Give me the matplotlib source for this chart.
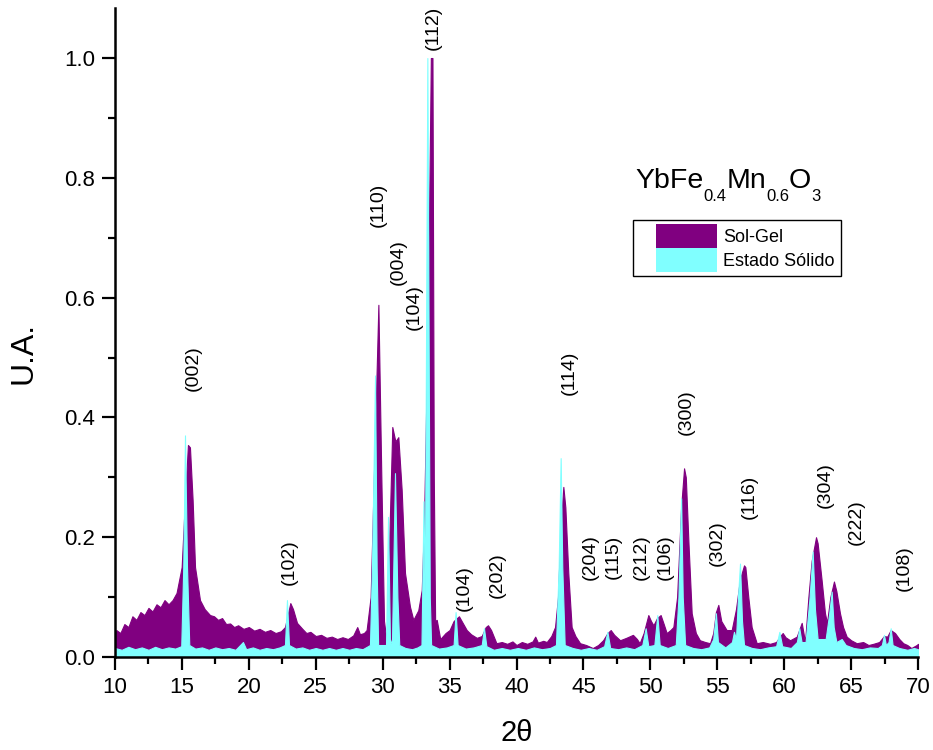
import matplotlib
matplotlib.use("Agg")
import matplotlib.pyplot as plt
from matplotlib.patches import Rectangle
from matplotlib.legend_handler import HandlerPatch
from matplotlib.ticker import MultipleLocator

plt.rcParams['font.family'] = ['Liberation Sans', 'DejaVu Sans']

# ---- diffraction patterns (2-theta in degrees, normalised intensity) ----
sg_2theta = [10.0, 10.1, 10.4, 10.7, 11.0, 11.3, 11.6, 11.9, 12.2, 12.5, 12.8, 13.1, 13.4, 13.7,
             14.0, 14.3, 14.6, 14.98, 15.2, 15.45, 15.6, 15.8, 15.98, 16.35, 16.7, 17.1, 17.4,
             17.7, 18.0, 18.3, 18.6, 18.9, 19.2, 19.6, 20.0, 20.4, 20.8, 21.2, 21.6, 22.0, 22.4,
             22.7, 22.9, 23.1, 23.3, 23.6, 24.0, 24.3, 24.6, 25.0, 25.4, 25.8, 26.2, 26.6, 27.0,
             27.4, 27.8, 28.1, 28.3, 28.6, 28.8, 29.1, 29.4, 29.68, 29.9, 30.1, 30.3, 30.5,
             30.72, 30.95, 31.17, 31.42, 31.67, 32.04, 32.29, 32.66, 32.92, 33.09, 33.4, 33.6,
             33.72, 33.82, 33.92, 34.04, 34.3, 34.7, 35.0, 35.3, 35.7, 35.9, 36.28, 36.6, 37.03,
             37.4, 37.7, 37.87, 38.1, 38.5, 38.9, 39.3, 39.7, 40.0, 40.4, 40.8, 41.2, 41.4, 41.6,
             42.0, 42.26, 42.6, 42.88, 43.1, 43.3, 43.5, 43.65, 43.87, 44.12, 44.4, 44.75, 45.2,
             45.7, 46.1, 46.47, 46.8, 47.04, 47.3, 47.74, 48.2, 48.7, 49.0, 49.2, 49.5, 49.85,
             50.05, 50.23, 50.5, 50.77, 51.0, 51.22, 51.5, 51.72, 52.0, 52.3, 52.52, 52.65, 52.84,
             53.09, 53.4, 53.7, 54.1, 54.46, 54.7, 54.9, 55.08, 55.3, 55.7, 56.08, 56.4, 56.7,
             57.0, 57.1, 57.32, 57.57, 57.95, 58.4, 58.94, 59.4, 59.7, 59.89, 60.1, 60.44, 60.94,
             61.31, 61.56, 61.81, 62.05, 62.38, 62.5, 62.8, 63.05, 63.2, 63.45, 63.72, 63.9,
             64.17, 64.4, 64.67, 65.0, 65.42, 65.9, 66.3, 66.66, 67.1, 67.46, 67.7, 67.96, 68.28,
             68.6, 68.9, 69.2, 69.5, 69.9, 70.0]
sg_intensity = [0.03, 0.045, 0.04, 0.055, 0.05, 0.068, 0.062, 0.075, 0.07, 0.082, 0.076, 0.088,
                0.083, 0.095, 0.088, 0.095, 0.107, 0.15, 0.25, 0.354, 0.35, 0.262, 0.15, 0.095,
                0.08, 0.07, 0.068, 0.062, 0.065, 0.055, 0.056, 0.05, 0.053, 0.047, 0.05, 0.044,
                0.047, 0.042, 0.045, 0.04, 0.043, 0.05, 0.07, 0.09, 0.08, 0.057, 0.047, 0.04,
                0.042, 0.035, 0.037, 0.032, 0.034, 0.03, 0.033, 0.03, 0.036, 0.05, 0.038, 0.04,
                0.045, 0.1, 0.35, 0.588, 0.3, 0.06, 0.025, 0.2, 0.384, 0.36, 0.367, 0.279, 0.14,
                0.084, 0.062, 0.078, 0.112, 0.224, 0.6, 1.0, 1.0, 0.3, 0.06, 0.062, 0.03, 0.04,
                0.045, 0.06, 0.068, 0.06, 0.045, 0.038, 0.032, 0.035, 0.05, 0.053, 0.045, 0.023,
                0.025, 0.022, 0.026, 0.02, 0.025, 0.022, 0.026, 0.034, 0.024, 0.027, 0.025, 0.035,
                0.05, 0.1, 0.22, 0.284, 0.25, 0.14, 0.05, 0.035, 0.023, 0.02, 0.015, 0.02, 0.028,
                0.04, 0.045, 0.037, 0.028, 0.032, 0.037, 0.03, 0.023, 0.04, 0.07, 0.06, 0.053,
                0.065, 0.07, 0.055, 0.04, 0.045, 0.05, 0.1, 0.25, 0.315, 0.3, 0.195, 0.073, 0.04,
                0.028, 0.025, 0.023, 0.04, 0.075, 0.087, 0.06, 0.045, 0.045, 0.08, 0.13, 0.153,
                0.15, 0.1, 0.05, 0.023, 0.025, 0.022, 0.025, 0.035, 0.04, 0.033, 0.028, 0.034,
                0.057, 0.025, 0.1, 0.16, 0.2, 0.19, 0.128, 0.073, 0.057, 0.1, 0.126, 0.11, 0.073,
                0.05, 0.034, 0.028, 0.023, 0.025, 0.02, 0.022, 0.025, 0.035, 0.034, 0.045, 0.04,
                0.03, 0.023, 0.02, 0.015, 0.02, 0.022]

ss_2theta = [10.0, 10.5, 11.0, 11.5, 12.0, 12.5, 13.0, 13.5, 14.0, 14.5, 14.95, 15.1, 15.23,
             15.38, 15.55, 16.0, 16.5, 17.0, 17.5, 18.0, 18.5, 19.0, 19.56, 19.8, 20.3, 20.8,
             21.3, 21.8, 22.3, 22.7, 22.85, 23.0, 23.5, 24.0, 24.5, 25.0, 25.5, 26.0, 26.5, 27.0,
             27.5, 28.0, 28.5, 29.05, 29.2, 29.43, 29.55, 29.66, 30.25, 30.4, 30.55, 30.7, 30.92,
             31.1, 31.24, 31.7, 32.2, 32.6, 32.9, 33.05, 33.15, 33.34, 33.52, 33.62, 34.2, 34.8,
             35.3, 35.45, 35.6, 36.2, 36.8, 37.4, 37.57, 37.75, 38.3, 38.9, 39.5, 40.1, 40.7,
             41.3, 41.9, 42.5, 42.95, 43.15, 43.3, 43.42, 43.6, 44.2, 44.8, 45.4, 46.0, 46.55,
             46.79, 47.0, 47.6, 48.2, 48.8, 49.4, 49.65, 49.85, 50.3, 50.52, 50.7, 51.3, 51.9,
             52.1, 52.3, 52.42, 52.6, 53.2, 53.8, 54.4, 54.7, 54.9, 55.05, 55.6, 56.1, 56.25,
             56.4, 56.55, 56.7, 56.85, 57.0, 57.6, 58.2, 58.8, 59.4, 59.64, 59.85, 60.5, 60.95,
             61.13, 61.3, 61.6, 61.9, 62.13, 62.3, 62.5, 63.1, 63.35, 63.55, 63.7, 63.9, 64.3,
             64.6, 65.2, 65.8, 66.4, 67.0, 67.3, 67.46, 67.6, 67.8, 67.96, 68.1, 68.6, 69.2,
             69.7, 70.0]
ss_intensity = [0.015, 0.012, 0.017, 0.013, 0.016, 0.012, 0.017, 0.013, 0.016, 0.014, 0.018,
                0.15, 0.37, 0.15, 0.02, 0.014, 0.016, 0.012, 0.016, 0.013, 0.015, 0.012, 0.025,
                0.013, 0.016, 0.012, 0.015, 0.013, 0.016, 0.02, 0.095, 0.02, 0.014, 0.016, 0.012,
                0.015, 0.012, 0.015, 0.012, 0.015, 0.012, 0.015, 0.013, 0.02, 0.15, 0.47, 0.15,
                0.02, 0.02, 0.234, 0.02, 0.03, 0.307, 0.1, 0.02, 0.015, 0.013, 0.016, 0.02, 0.26,
                0.1, 1.0, 0.1, 0.02, 0.014, 0.016, 0.02, 0.075, 0.02, 0.014, 0.016, 0.02, 0.048,
                0.018, 0.012, 0.015, 0.012, 0.015, 0.012, 0.016, 0.013, 0.015, 0.02, 0.15, 0.332,
                0.15, 0.02, 0.015, 0.012, 0.015, 0.012, 0.018, 0.042, 0.015, 0.013, 0.016, 0.013,
                0.02, 0.048, 0.018, 0.02, 0.07, 0.02, 0.015, 0.02, 0.1, 0.265, 0.1, 0.02, 0.015,
                0.013, 0.016, 0.03, 0.073, 0.025, 0.016, 0.025, 0.042, 0.03, 0.1, 0.156, 0.06,
                0.02, 0.015, 0.013, 0.016, 0.018, 0.042, 0.018, 0.015, 0.025, 0.048, 0.025, 0.025,
                0.1, 0.176, 0.08, 0.03, 0.03, 0.07, 0.109, 0.05, 0.025, 0.03, 0.02, 0.015, 0.013,
                0.016, 0.015, 0.02, 0.037, 0.02, 0.025, 0.048, 0.02, 0.015, 0.012, 0.015, 0.013]

series_names = ['Sol-Gel', 'Estado Sólido']
series_colors = ['#800080', '#80FFFF']

# Miller indices and where each reflection label sits (2-theta, height)
hkl_labels = ['(002)', '(102)', '(110)', '(004)', '(104)', '(112)', '(104)', '(202)', '(114)',
              '(204)', '(115)', '(212)', '(106)', '(300)', '(302)', '(116)', '(304)', '(222)',
              '(108)']
hkl_x = [15.83, 23.0, 29.66, 31.15, 32.35, 33.76, 36.08, 38.55, 43.93, 45.5, 47.21, 49.3,
         51.1, 52.67, 54.98, 57.4, 63.1, 65.37, 68.96]
hkl_y = [0.483, 0.159, 0.755, 0.659, 0.584, 1.05, 0.115, 0.137, 0.475, 0.167, 0.167, 0.167,
         0.167, 0.409, 0.19, 0.267, 0.287, 0.225, 0.149]

x_ticks = [10, 15, 20, 25, 30, 35, 40, 45, 50, 55, 60, 65, 70]
y_ticks = [0.0, 0.2, 0.4, 0.6, 0.8, 1.0]

W, H = 933, 750
fig = plt.figure(figsize=(W / 100, H / 100), dpi=100)
ax = fig.add_axes([115 / W, 1 - 657 / H, (918 - 115) / W, (657 - 8) / H])

ax.fill_between(sg_2theta, 0, sg_intensity, color=series_colors[0], lw=0.8,
                label=series_names[0])
ax.fill_between(ss_2theta, 0, ss_intensity, color=series_colors[1], lw=0.8,
                label=series_names[1])

ax.set_xlim(10, 70)
ax.set_ylim(0, 1.0835)
ax.set_xticks(x_ticks)
ax.set_xticklabels([str(t) for t in x_ticks])
ax.set_yticks(y_ticks)
ax.set_yticklabels([f'{t:.1f}' for t in y_ticks])
ax.xaxis.set_minor_locator(MultipleLocator(2.5))
ax.yaxis.set_minor_locator(MultipleLocator(0.1))
ax.tick_params(which='major', direction='out', length=9.5, width=1.6, labelsize=16, pad=5)
ax.tick_params(which='minor', direction='out', length=5, width=1.6)
for side in ('top', 'right'):
    ax.spines[side].set_visible(False)
for side in ('left', 'bottom'):
    ax.spines[side].set_linewidth(1.8)

for lab, x, y in zip(hkl_labels, hkl_x, hkl_y):
    ax.text(x, y, lab, rotation=90, ha='center', va='center', fontsize=14)

fig.text(24 / W, 1 - 353 / H, 'U.A.', rotation=90, ha='center', va='center', fontsize=23)
fig.text(517 / W, 1 - 733 / H, '2θ', ha='center', va='center', fontsize=21)

# compound formula with hand-set subscripts
fig.canvas.draw()
renderer = fig.canvas.get_renderer()
formula = [('YbFe', 20.5, 0), ('0.4', 12, -13), ('Mn', 20.5, 0), ('0.6', 12, -13),
           ('O', 20.5, 0), ('3', 12, -13)]
xpix, base = 635, H - 188
for txt, size, dy in formula:
    t = fig.text(xpix / W, (base + dy) / H, txt, fontsize=size, ha='left', va='baseline')
    bb = t.get_window_extent(renderer)
    xpix = bb.x1


class IndentedPatch(HandlerPatch):
    def create_artists(self, legend, orig_handle, xdescent, ydescent, width, height,
                       fontsize, trans):
        shift = 12
        r = Rectangle((-xdescent + shift, -ydescent - 2), width - shift, height + 4,
                      facecolor=orig_handle.get_facecolor(), edgecolor='none',
                      transform=trans)
        return [r]


handles = [Rectangle((0, 0), 1, 1, facecolor=c) for c in series_colors]
leg = fig.legend(handles, series_names, loc='upper left',
                 bbox_to_anchor=(633 / W, 1 - 220 / H), fontsize=13,
                 handler_map={Rectangle: IndentedPatch()},
                 handlelength=4.3, handleheight=1.25, handletextpad=0.35,
                 labelspacing=0.25, borderpad=0.35, borderaxespad=0,
                 frameon=True, fancybox=False, edgecolor='black', framealpha=1)
leg.get_frame().set_linewidth(1.0)

fig.savefig('out.png', dpi=100)
